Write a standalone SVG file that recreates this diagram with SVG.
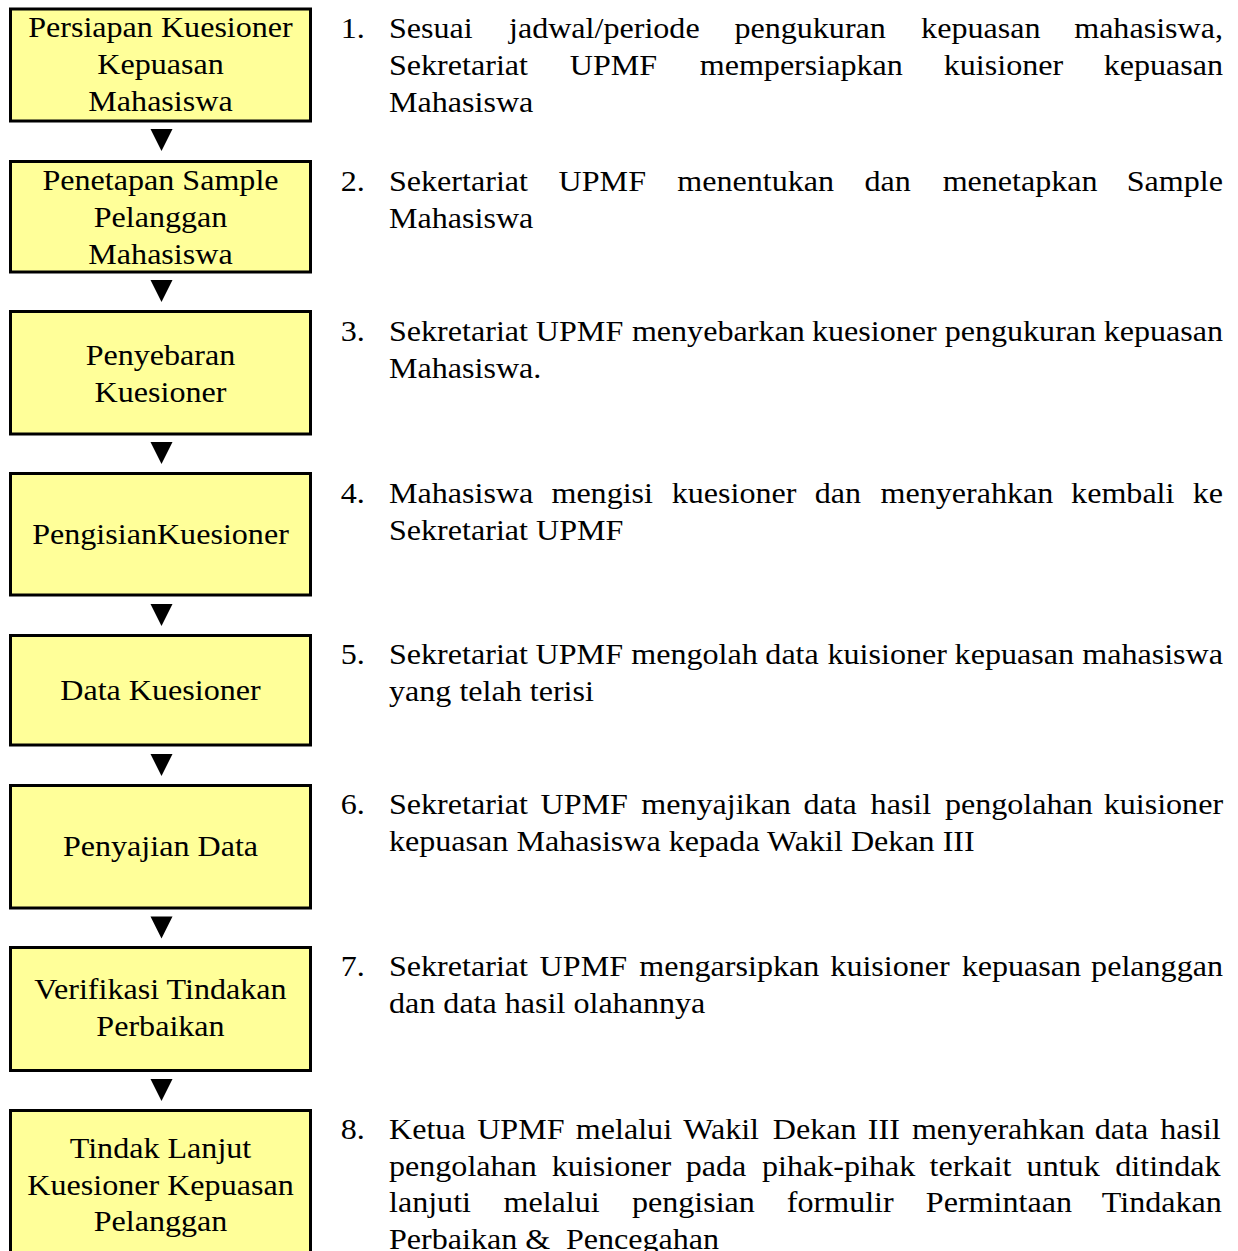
<svg xmlns="http://www.w3.org/2000/svg" width="1238" height="1251" viewBox="0 0 1238 1251">
<defs>
<style>
.box{fill:#FFFF99;stroke:#000;stroke-width:3}
.t{font-family:"Liberation Serif","Times New Roman",serif;font-size:28.4px;fill:#000}
.c{text-anchor:middle}
.arrow{fill:#000}
</style>
<path id="tri" d="M0,0 L22,0 L11,22 Z"/>
</defs>
<rect width="1238" height="1251" fill="#fff"/>

<g id="node1">
<rect class="box" x="10.5" y="9" width="300" height="112"/>
<text class="t c" transform="scale(1.13 1)"><tspan x="142.04" y="37.5">Persiapan Kuesioner</tspan><tspan x="142.04" y="74.2">Kepuasan</tspan><tspan x="142.04" y="110.9">Mahasiswa</tspan></text>
</g>
<g id="node2">
<rect class="box" x="10.5" y="161.5" width="300" height="110.5"/>
<text class="t c" transform="scale(1.13 1)"><tspan x="142.04" y="190.5">Penetapan Sample</tspan><tspan x="142.04" y="227.2">Pelanggan</tspan><tspan x="142.04" y="263.9">Mahasiswa</tspan></text>
</g>
<g id="node3">
<rect class="box" x="10.5" y="311.5" width="300" height="122.5"/>
<text class="t c" transform="scale(1.13 1)"><tspan x="142.04" y="365">Penyebaran</tspan><tspan x="142.04" y="401.7">Kuesioner</tspan></text>
</g>
<g id="node4">
<rect class="box" x="10.5" y="473.5" width="300" height="121.5"/>
<text class="t c" transform="scale(1.13 1)"><tspan x="142.04" y="544.5">PengisianKuesioner</tspan></text>
</g>
<g id="node5">
<rect class="box" x="10.5" y="635.5" width="300" height="109.5"/>
<text class="t c" transform="scale(1.13 1)"><tspan x="142.04" y="700.5">Data Kuesioner</tspan></text>
</g>
<g id="node6">
<rect class="box" x="10.5" y="785.5" width="300" height="122.5"/>
<text class="t c" transform="scale(1.13 1)"><tspan x="142.04" y="856.5">Penyajian Data</tspan></text>
</g>
<g id="node7">
<rect class="box" x="10.5" y="947.5" width="300" height="123"/>
<text class="t c" transform="scale(1.13 1)"><tspan x="142.04" y="999.5">Verifikasi Tindakan</tspan><tspan x="142.04" y="1036.2">Perbaikan</tspan></text>
</g>
<g id="node8">
<rect class="box" x="10.5" y="1110.5" width="300" height="170"/>
<text class="t c" transform="scale(1.13 1)"><tspan x="142.04" y="1158">Tindak Lanjut</tspan><tspan x="142.04" y="1194.7">Kuesioner Kepuasan</tspan><tspan x="142.04" y="1231.4">Pelanggan</tspan></text>
</g>

<g id="connectors">
<use href="#tri" class="arrow" x="150.5" y="129"/>
<use href="#tri" class="arrow" x="150.5" y="280"/>
<use href="#tri" class="arrow" x="150.5" y="442"/>
<use href="#tri" class="arrow" x="150.5" y="604"/>
<use href="#tri" class="arrow" x="150.5" y="754"/>
<use href="#tri" class="arrow" x="150.5" y="916.5"/>
<use href="#tri" class="arrow" x="150.5" y="1079"/>
</g>

<g id="step1">
<text class="t" transform="scale(1.13 1)" y="38.5"><tspan x="301.5">1.</tspan><tspan x="344.25">Sesuai</tspan><tspan x="450.43">jadwal/periode</tspan><tspan x="649.90">pengukuran</tspan><tspan x="815.16">kepuasan</tspan><tspan x="950.6">mahasiswa,</tspan></text>
<text class="t" transform="scale(1.13 1)" y="75.2"><tspan x="344.25">Sekretariat</tspan><tspan x="504.25">UPMF</tspan><tspan x="619.19">mempersiapkan</tspan><tspan x="835.19">kuisioner</tspan><tspan x="976.7">kepuasan</tspan></text>
<text class="t" transform="scale(1.13 1)" x="344.25" y="111.9">Mahasiswa</text>
</g>
<g id="step2">
<text class="t" transform="scale(1.13 1)" y="191"><tspan x="301.5">2.</tspan><tspan x="344.25">Sekertariat</tspan><tspan x="494.33">UPMF</tspan><tspan x="599.35">menentukan</tspan><tspan x="764.99">dan</tspan><tspan x="834.20">menetapkan</tspan><tspan x="997.1">Sample</tspan></text>
<text class="t" transform="scale(1.13 1)" x="344.25" y="227.7">Mahasiswa</text>
</g>
<g id="step3">
<text class="t" transform="scale(1.13 1)" y="341"><tspan x="301.5">3.</tspan><tspan x="344.25">Sekretariat</tspan><tspan x="474.2">UPMF</tspan><tspan x="559.2">menyebarkan</tspan><tspan x="718.6">kuesioner</tspan><tspan x="836">pengukuran</tspan><tspan x="976.7">kepuasan</tspan></text>
<text class="t" transform="scale(1.13 1)" x="344.25" y="377.7">Mahasiswa.</text>
</g>
<g id="step4">
<text class="t" transform="scale(1.13 1)" y="503"><tspan x="301.5">4.</tspan><tspan x="344.25">Mahasiswa</tspan><tspan x="487.99">mengisi</tspan><tspan x="594.44">kuesioner</tspan><tspan x="721.07">dan</tspan><tspan x="779.27">menyerahkan</tspan><tspan x="947.88">kembali</tspan><tspan x="1055.5">ke</tspan></text>
<text class="t" transform="scale(1.13 1)" x="344.25" y="539.7">Sekretariat UPMF</text>
</g>
<g id="step5">
<text class="t" transform="scale(1.13 1)" y="664"><tspan x="301.5">5.</tspan><tspan x="344.25">Sekretariat</tspan><tspan x="474">UPMF</tspan><tspan x="558.6">mengolah</tspan><tspan x="677.3">data</tspan><tspan x="732.3">kuisioner</tspan><tspan x="844.8">kepuasan</tspan><tspan x="957.7">mahasiswa</tspan></text>
<text class="t" transform="scale(1.13 1)" x="344.25" y="700.7">yang telah terisi</text>
</g>
<g id="step6">
<text class="t" transform="scale(1.13 1)" y="814"><tspan x="301.5">6.</tspan><tspan x="344.25">Sekretariat</tspan><tspan x="478.39">UPMF</tspan><tspan x="567.47">menyajikan</tspan><tspan x="710.96">data</tspan><tspan x="770.45">hasil</tspan><tspan x="836.18">pengolahan</tspan><tspan x="976.7">kuisioner</tspan></text>
<text class="t" transform="scale(1.13 1)" x="344.25" y="850.7">kepuasan Mahasiswa kepada Wakil Dekan III</text>
</g>
<g id="step7">
<text class="t" transform="scale(1.13 1)" y="976"><tspan x="301.5">7.</tspan><tspan x="344.25">Sekretariat</tspan><tspan x="477.54">UPMF</tspan><tspan x="565.77">mengarsipkan</tspan><tspan x="734.84">kuisioner</tspan><tspan x="851.05">kepuasan</tspan><tspan x="965.6">pelanggan</tspan></text>
<text class="t" transform="scale(1.13 1)" x="344.25" y="1012.7">dan data hasil olahannya</text>
</g>
<g id="step8">
<text class="t" transform="scale(1.13 1)" y="1139"><tspan x="301.5">8.</tspan><tspan x="344.25">Ketua</tspan><tspan x="422.3">UPMF</tspan><tspan x="509.6">melalui</tspan><tspan x="604.6">Wakil</tspan><tspan x="683.9">Dekan</tspan><tspan x="768">III</tspan><tspan x="807">menyerahkan</tspan><tspan x="968.8">data</tspan><tspan x="1026.7">hasil</tspan></text>
<text class="t" transform="scale(1.13 1)" y="1175.7"><tspan x="344.25">pengolahan</tspan><tspan x="488.3">kuisioner</tspan><tspan x="606.9">pada</tspan><tspan x="674.4">pihak-pihak</tspan><tspan x="822.6">terkait</tspan><tspan x="908.5">untuk</tspan><tspan x="987">ditindak</tspan></text>
<text class="t" transform="scale(1.13 1)" y="1212.4"><tspan x="344.25">lanjuti</tspan><tspan x="445.53">melalui</tspan><tspan x="559.24">pengisian</tspan><tspan x="696.27">formulir</tspan><tspan x="819.30">Permintaan</tspan><tspan x="975.1">Tindakan</tspan></text>
<text class="t" transform="scale(1.13 1)" y="1249.1"><tspan x="344.25">Perbaikan</tspan><tspan x="464.8">&amp;</tspan><tspan x="500.8">Pencegahan</tspan></text>
</g>
</svg>
